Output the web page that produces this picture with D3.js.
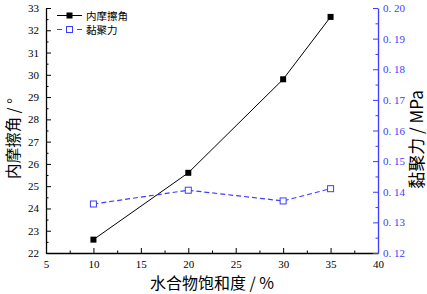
<!DOCTYPE html>
<html>
<head>
<meta charset="utf-8">
<script src="https://cdn.jsdelivr.net/npm/d3@7"></script>
<style>
body { margin: 0; background: #fff; }
.serif text { font-family: "Liberation Serif", "Times New Roman", serif; }
</style>
</head>
<body>
<script>
var saturation = [10, 20, 30, 35];
var frictionAngle = [22.6, 25.6, 29.8, 32.6];
var cohesion = [0.136, 0.1405, 0.137, 0.141];
var xTicks = [5, 10, 15, 20, 25, 30, 35, 40];
var leftTicks = [22, 23, 24, 25, 26, 27, 28, 29, 30, 31, 32, 33];
var rightTicks = [0.12, 0.13, 0.14, 0.15, 0.16, 0.17, 0.18, 0.19, 0.20];

var blue = "#3d3dff";
var cjk = '"Noto Sans CJK SC", "Noto Sans", sans-serif';
var margin = { left: 46, right: 49, top: 8, bottom: 41 };
var width = 427 - margin.left - margin.right;
var height = 294 - margin.top - margin.bottom;

var svg = d3.select("body").append("svg")
    .attr("width", 427)
    .attr("height", 294)
    .append("g")
    .attr("transform", `translate(${margin.left}, ${margin.top})`);

var x = d3.scaleLinear().domain([5, 40]).range([0, width]);
var yL = d3.scaleLinear().domain([22, 33]).range([height, 0]);
var yR = d3.scaleLinear().domain([0.12, 0.20]).range([height, 0]);

// minor ticks first
svg.append("g")
    .attr("transform", `translate(0, ${height})`)
    .call(d3.axisTop(x).tickValues(d3.range(7.5, 40, 5)).tickSize(2.5).tickFormat(""))
    .call(g => g.select(".domain").remove());
svg.append("g")
    .call(d3.axisRight(yL).tickValues(d3.range(22.5, 33, 1)).tickSize(2.5).tickFormat(""))
    .call(g => g.select(".domain").remove());
svg.append("g")
    .attr("transform", `translate(${width}, 0)`)
    .call(d3.axisLeft(yR).tickValues(d3.range(0.125, 0.2, 0.01)).tickSize(2.5).tickFormat(""))
    .call(g => g.select(".domain").remove())
    .selectAll("line").attr("stroke", blue);

// bottom axis, ticks inward
var xAxis = svg.append("g")
    .attr("class", "serif")
    .attr("transform", `translate(0, ${height})`)
    .call(d3.axisBottom(x).tickValues(xTicks).tickSizeInner(-5).tickSizeOuter(0).tickPadding(7));
xAxis.attr("font-family", null).attr("font-size", 11);

// left axis
var lAxis = svg.append("g")
    .attr("class", "serif")
    .call(d3.axisLeft(yL).tickValues(leftTicks).tickSizeInner(-5).tickSizeOuter(0).tickPadding(7).tickFormat(d3.format("d")));
lAxis.attr("font-family", null).attr("font-size", 11);

// right axis
var rAxis = svg.append("g")
    .attr("class", "serif")
    .attr("transform", `translate(${width}, 0)`)
    .call(d3.axisRight(yR).tickValues(rightTicks).tickSizeInner(-5).tickSizeOuter(0).tickPadding(5)
        .tickFormat(d => d.toFixed(2).replace(".", ". ")));
rAxis.attr("font-family", null).attr("font-size", 11);
rAxis.select(".domain").attr("stroke", blue);
rAxis.selectAll("line").attr("stroke", blue);
rAxis.selectAll("text").attr("fill", blue).style("white-space", "pre");

svg.selectAll(".domain").attr("stroke-width", 1.3);

// lines
var lineL = d3.line().x((d, i) => x(saturation[i])).y(d => yL(d));
var lineR = d3.line().x((d, i) => x(saturation[i])).y(d => yR(d));

svg.append("path")
    .attr("d", lineL(frictionAngle))
    .attr("fill", "none")
    .attr("stroke", "#000")
    .attr("stroke-width", 1);

svg.append("path")
    .attr("d", lineR(cohesion))
    .attr("fill", "none")
    .attr("stroke", blue)
    .attr("stroke-width", 1.2)
    .attr("stroke-dasharray", "5,3");

svg.selectAll(".m1").data(frictionAngle).enter().append("rect")
    .attr("x", (d, i) => x(saturation[i]) - 3)
    .attr("y", d => yL(d) - 3)
    .attr("width", 6).attr("height", 6)
    .attr("fill", "#000");

svg.selectAll(".m2").data(cohesion).enter().append("rect")
    .attr("x", (d, i) => x(saturation[i]) - 3)
    .attr("y", d => yR(d) - 3)
    .attr("width", 6).attr("height", 6)
    .attr("fill", "#fff")
    .attr("stroke", blue)
    .attr("stroke-width", 1);

// legend
var legend = svg.append("g").attr("transform", "translate(11, 7.5)");
legend.append("line").attr("x1", 0).attr("x2", 25).attr("y1", 0).attr("y2", 0).attr("stroke", "#000");
legend.append("rect").attr("x", 9.5).attr("y", -3).attr("width", 6).attr("height", 6).attr("fill", "#000");
legend.append("text").attr("x", 29).attr("y", 4).attr("font-size", 10.5).style("font-family", cjk).text("内摩擦角");
legend.append("line").attr("x1", 0).attr("x2", 25).attr("y1", 14).attr("y2", 14).attr("stroke", blue).attr("stroke-width", 1.2).attr("stroke-dasharray", "5,5");
legend.append("rect").attr("x", 9.5).attr("y", 11).attr("width", 6).attr("height", 6).attr("fill", "#fff").attr("stroke", blue);
legend.append("text").attr("x", 29).attr("y", 18).attr("font-size", 10.5).style("font-family", cjk).text("黏聚力");

// axis titles
svg.append("text")
    .attr("x", width / 2)
    .attr("y", height + 36)
    .attr("text-anchor", "middle")
    .attr("font-size", 16)
    .style("font-family", cjk)
    .text("水合物饱和度 / %");

svg.append("text")
    .attr("transform", `translate(-27.5, ${height / 2 + 8}) rotate(-90)`)
    .attr("text-anchor", "middle")
    .attr("font-size", 15.5)
    .style("font-family", cjk)
    .text("内摩擦角 / °");

svg.append("text")
    .attr("transform", `translate(${width + 45}, ${height / 2 + 9}) rotate(-90)`)
    .attr("text-anchor", "middle")
    .attr("font-size", 17)
    .style("font-family", cjk)
    .text("黏聚力 / MPa");
</script>
</body>
</html>
